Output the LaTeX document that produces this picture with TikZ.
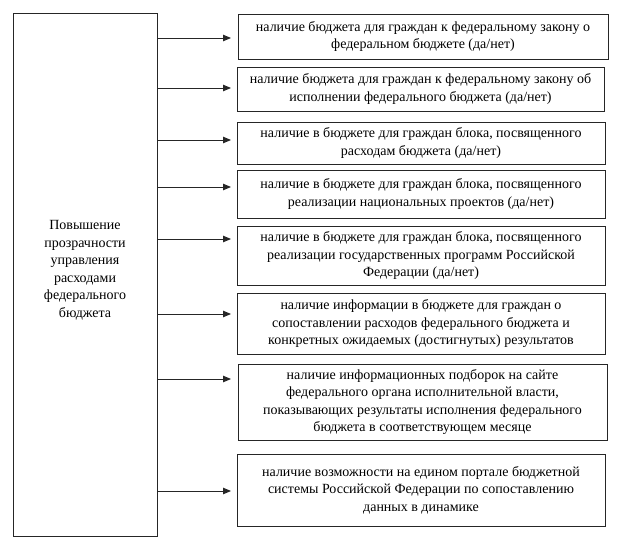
\documentclass[tikz,border=0pt]{standalone}
\usepackage{fontspec}
\setmainfont{Liberation Serif}
\usetikzlibrary{arrows.meta,calc}
\begin{document}
\begin{tikzpicture}[x=1pt,y=1pt,
  every node/.style={inner sep=0pt, outer sep=0pt},
  box/.style={draw=black!85, line width=0.9pt, align=center, anchor=north west,
    font=\fontsize{14}{17.5}\selectfont},
  arr/.style={draw=black!85, line width=0.9pt, -{Triangle[length=8pt,width=6.5pt]}}]
\useasboundingbox (0,0) rectangle (624,-543);
% left box
\node[box, minimum width=144, minimum height=523] (L) at (13,-13)
  {Повышение\\прозрачности\\управления\\расходами\\федерального\\бюджета\\[-6pt]};
% right boxes
\node[box, minimum width=370, minimum height=45] (b1) at (238,-14)
  {наличие бюджета для граждан к федеральному закону о\\федеральном бюджете (да/нет)};
\node[box, minimum width=367, minimum height=44] (b2) at (237,-67)
  {наличие бюджета для граждан к федеральному закону об\\исполнении федерального бюджета (да/нет)};
\node[box, minimum width=368, minimum height=42] (b3) at (237,-122)
  {наличие в бюджете для граждан блока, посвященного\\расходам бюджета (да/нет)};
\node[box, minimum width=368, minimum height=48] (b4) at (237,-170)
  {наличие в бюджете для граждан блока, посвященного\\реализации национальных проектов (да/нет)};
\node[box, minimum width=368, minimum height=59] (b5) at (237,-226)
  {наличие в бюджете для граждан блока, посвященного\\реализации государственных программ Российской\\Федерации (да/нет)};
\node[box, minimum width=368, minimum height=61] (b6) at (237,-293)
  {наличие информации в бюджете для граждан о\\сопоставлении расходов федерального бюджета и\\конкретных ожидаемых (достигнутых) результатов};
\node[box, minimum width=369, minimum height=76] (b7) at (238,-364)
  {наличие информационных подборок на сайте\\федерального органа исполнительной власти,\\показывающих результаты исполнения федерального\\бюджета в соответствующем месяце};
\node[box, minimum width=368, minimum height=72] (b8) at (237,-454)
  {наличие возможности на едином портале бюджетной\\системы Российской Федерации по сопоставлению\\данных в динамике};
% arrow ends
\coordinate (e1) at (231,-38);
\coordinate (e2) at (231,-88);
\coordinate (e3) at (231,-140);
\coordinate (e4) at (231,-187);
\coordinate (e5) at (231,-239);
\coordinate (e6) at (231,-314);
\coordinate (e7) at (231,-379);
\coordinate (e8) at (231,-491);
\foreach \i in {1,...,8} {
  \draw[arr] (L.east |- e\i) -- (e\i);
}
\end{tikzpicture}
\end{document}
